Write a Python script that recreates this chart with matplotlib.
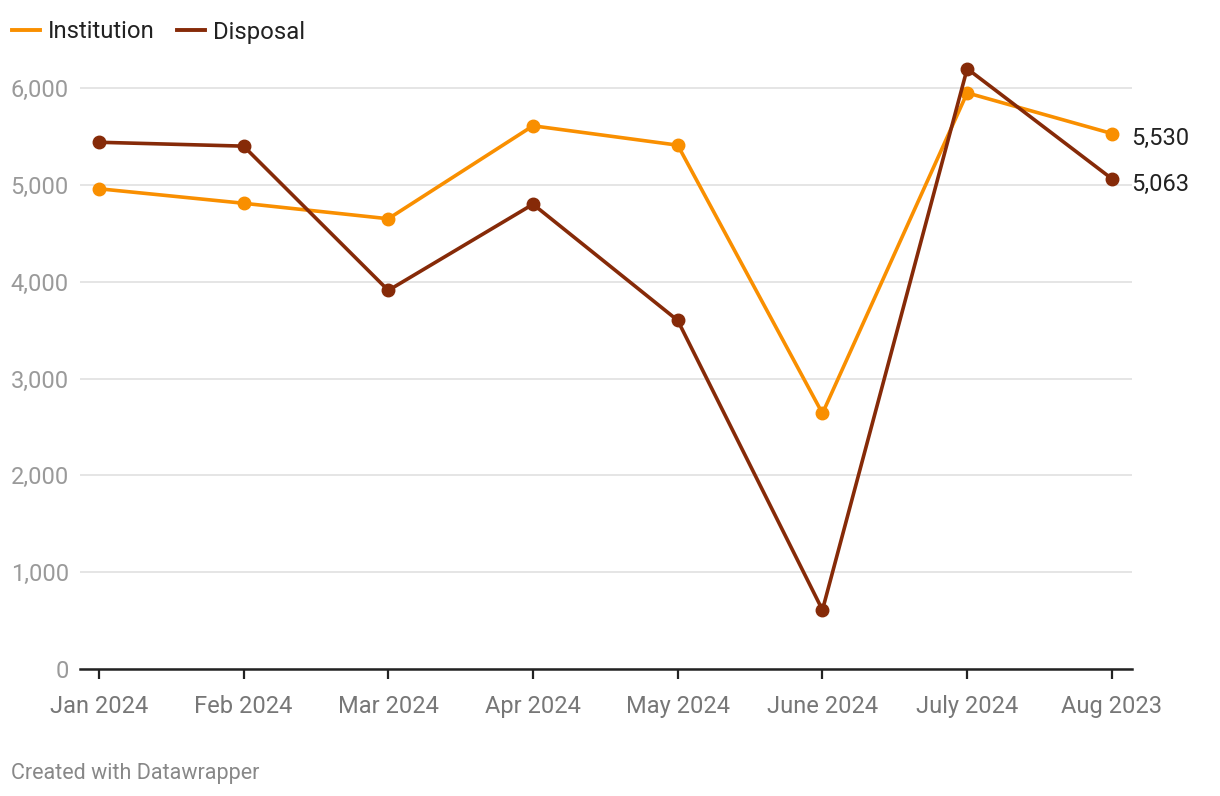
import matplotlib.pyplot as plt

plt.rcParams['font.family'] = ['Roboto', 'DejaVu Sans']

months = ['Jan 2024', 'Feb 2024', 'Mar 2024', 'Apr 2024', 'May 2024',
          'June 2024', 'July 2024', 'Aug 2023']
institution = [4960, 4810, 4650, 5610, 5410, 2640, 5950, 5530]
disposal = [5440, 5400, 3910, 4800, 3600, 610, 6200, 5063]
yticks = [0, 1000, 2000, 3000, 4000, 5000, 6000]

orange = '#f98f00'
brown = '#862a08'

fig = plt.figure(figsize=(12.2, 7.96), dpi=100)
ax = fig.add_axes([0.0656, 0.1595, 0.8624, 0.7664])

x = list(range(len(months)))
ax.plot(x, institution, color=orange, lw=2.6, marker='o', ms=9, zorder=3)
ax.plot(x, disposal, color=brown, lw=2.6, marker='o', ms=9, zorder=4)

ax.set_xlim(-0.13, 7.14)
ax.set_ylim(0, 6300)
ax.set_yticks(yticks)
ax.set_yticklabels([f'{v:,}' for v in yticks])
ax.set_xticks(x)
ax.set_xticklabels(months)

ax.grid(axis='y', color='#e0e0e0', lw=1.2)
ax.set_axisbelow(True)
for s in ['top', 'right', 'left']:
    ax.spines[s].set_visible(False)
ax.spines['bottom'].set_color('#222222')
ax.spines['bottom'].set_linewidth(1.8)

ax.tick_params(axis='y', length=0, pad=8, labelsize=17, labelcolor='#9a9a9a')
ax.tick_params(axis='x', length=7, width=1.6, color='#222222', pad=12,
               labelsize=17, labelcolor='#777777')

# end labels
ax.annotate(f'{institution[-1]:,}', (x[-1], institution[-1]), xytext=(14, -3.5),
            textcoords='offset points', va='center', ha='left', fontsize=17,
            color='#222222', annotation_clip=False)
ax.annotate(f'{disposal[-1]:,}', (x[-1], disposal[-1]), xytext=(14, -4),
            textcoords='offset points', va='center', ha='left', fontsize=17,
            color='#222222', annotation_clip=False)

# legend
fig.lines.append(plt.Line2D([12 / 1220, 40 / 1220], [1 - 30 / 796] * 2,
                            color=orange, lw=2.8, transform=fig.transFigure))
fig.text(48 / 1220, 1 - 32 / 796, 'Institution', fontsize=17.2, va='center',
         color='#222222')
fig.lines.append(plt.Line2D([177 / 1220, 205 / 1220], [1 - 30 / 796] * 2,
                            color=brown, lw=2.8, transform=fig.transFigure))
fig.text(213 / 1220, 1 - 32 / 796, 'Disposal', fontsize=17.2, va='center',
         color='#222222')

fig.text(11 / 1220, 1 - 773 / 796, 'Created with Datawrapper', fontsize=15.5,
         va='center', color='#888888')

fig.savefig('out.png', dpi=100)
